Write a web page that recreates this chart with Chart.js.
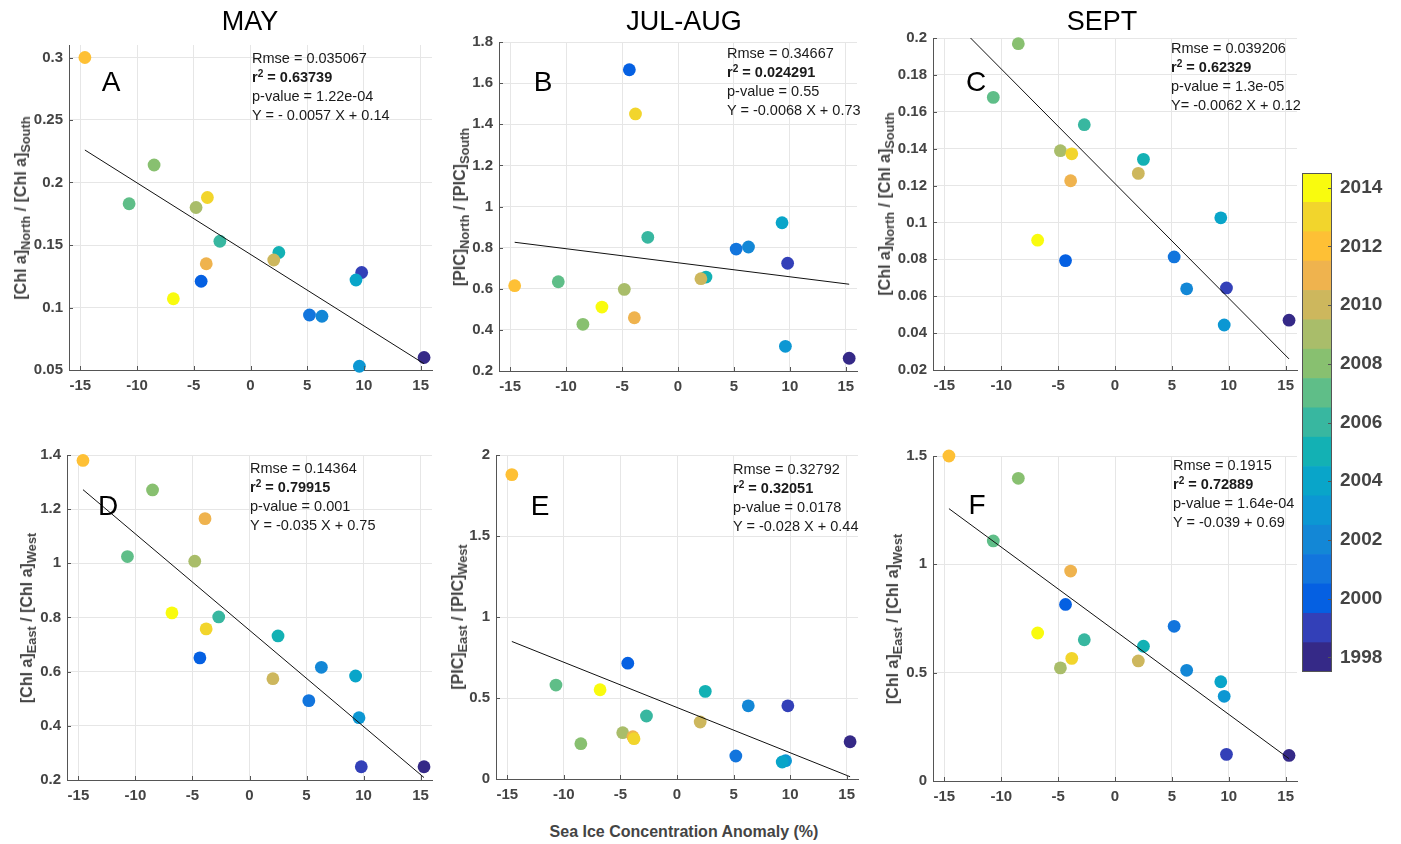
<!DOCTYPE html>
<html>
<head>
<meta charset="utf-8">
<title>Chl a / PIC ratios vs sea ice anomaly</title>
<script src="https://cdn.jsdelivr.net/npm/chart.js"></script>
<style>
  body { margin:0; background:#fff; font-family:"Liberation Sans", Arial, sans-serif; }
  #page { position:relative; width:1401px; height:844px; overflow:hidden; }
  canvas { position:absolute; }
  .t { position:absolute; white-space:nowrap; transform:translate(-50%,-50%); line-height:1; }
  .title { font-size:27px; color:#000; }
  .letter { font-size:28px; color:#000; }
  .xlab { font-size:16px; font-weight:bold; color:#444; }
  .ylab { position:absolute; white-space:nowrap; font-size:16px; font-weight:bold; color:#444;
          transform:translate(-50%,-50%) rotate(-90deg); line-height:1; }
  .ylab sub { font-size:0.8em; vertical-align:-0.35em; line-height:0; }
  .stats { position:absolute; white-space:nowrap; font-size:14.5px; line-height:19px; color:#1a1a1a; }
  .stats sup { font-size:0.7em; vertical-align:0.5em; line-height:0; }
</style>
</head>
<body>
<div id="page"></div>
<script>
// ---- data ----
const years = [1998, 1999, 2000, 2001, 2002, 2003, 2004, 2005, 2006, 2007, 2008, 2009, 2010, 2011, 2012, 2013, 2014];
const yearColors = ['#352987', '#3340b8', '#0560e2', '#1275dd', '#1387d6', '#0c97d3', '#09a5c9', '#13b1b4',
                    '#38b7a0', '#5fbe88', '#88c070', '#a9bd6a', '#cdb75d', '#efb34e', '#fec035', '#f2d52c', '#f9fb0e'];
const yearTicks = [1998, 2000, 2002, 2004, 2006, 2008, 2010, 2012, 2014];

// sea ice concentration anomaly (%) per year
const iceAnomaly = [15.3, 9.8, -4.35, 5.2, 6.3, 9.6, 9.3, 2.5, -2.7, -10.7, -8.5, -4.8, 2.05, -3.9, -14.6, -3.8, -6.8];

const mayChlNS  = [0.060, 0.128, 0.121, 0.094, 0.093, 0.053, 0.122, 0.144, 0.153, 0.183, 0.214, 0.180, 0.138, 0.135, 0.300, 0.188, 0.107];
const julPicNS  = [0.262, 0.724, 1.665, 0.793, 0.803, 0.320, 0.921, 0.657, 0.850, 0.634, 0.427, 0.597, 0.649, 0.459, 0.615, 1.450, 0.511];
const sepChlNS  = [0.047, 0.0645, 0.0793, 0.0813, 0.064, 0.0444, 0.1025, 0.1342, 0.153, 0.1678, 0.1969, 0.1389, 0.1266, 0.1226, null, 0.1372, 0.0904];
const mayChlEW  = [0.249, 0.249, 0.651, 0.493, 0.616, 0.430, 0.584, 0.732, 0.802, 1.025, 1.271, 1.008, 0.574, 1.165, 1.380, 0.758, 0.817];
const julPicEW  = [0.230, 0.452, 0.715, 0.142, 0.452, 0.113, 0.105, 0.541, 0.389, 0.580, 0.218, 0.286, 0.352, 0.261, 1.879, 0.249, 0.551];
const sepChlEW  = [0.118, 0.123, 0.815, 0.714, 0.511, 0.391, 0.458, 0.622, 0.652, 1.108, 1.397, 0.522, 0.554, 0.969, 1.500, 0.566, 0.683];

// regression line end points [x0, x1] / [y0, y1]
const fitXA = [-14.6, 15.3], fitYA = [0.226, 0.055];
const fitXB = [-14.6, 15.3], fitYB = [0.826, 0.622];
const fitXC = [-12.7, 15.3], fitYC = [0.200, 0.026];
const fitXD = [-14.6, 15.3], fitYD = [1.272, 0.209];
const fitXE = [-14.6, 15.3], fitYE = [0.849, 0.014];
const fitXF = [-14.6, 15.3], fitYF = [1.257, 0.103];

const xTicks = [-15, -10, -5, 0, 5, 10, 15];
const yTicksA = [0.05, 0.1, 0.15, 0.2, 0.25, 0.3];
const yTicksB = [0.2, 0.4, 0.6, 0.8, 1, 1.2, 1.4, 1.6, 1.8];
const yTicksC = [0.02, 0.04, 0.06, 0.08, 0.1, 0.12, 0.14, 0.16, 0.18, 0.2];
const yTicksD = [0.2, 0.4, 0.6, 0.8, 1, 1.2, 1.4];
const yTicksE = [0, 0.5, 1, 1.5, 2];
const yTicksF = [0, 0.5, 1, 1.5];

const statsA = ['Rmse = 0.035067', '0.63739', 'p-value = 1.22e-04', 'Y = - 0.0057 X + 0.14'];
const statsB = ['Rmse = 0.34667', '0.024291', 'p-value = 0.55', 'Y = -0.0068 X + 0.73'];
const statsC = ['Rmse = 0.039206', '0.62329', 'p-value = 1.3e-05', 'Y= -0.0062 X + 0.12'];
const statsD = ['Rmse = 0.14364', '0.79915', 'p-value = 0.001', 'Y = -0.035 X + 0.75'];
const statsE = ['Rmse = 0.32792', '0.32051', 'p-value = 0.0178', 'Y = -0.028 X + 0.44'];
const statsF = ['Rmse = 0.1915', '0.72889', 'p-value = 1.64e-04', 'Y = -0.039 + 0.69'];

// ---- layout ----
Chart.defaults.font.family = '"Liberation Sans", Arial, sans-serif';
const page = document.getElementById('page');
const YW = 60, XH = 30, PT = 10, PR = 14;

const panels = [
  {letter:'A', box:[69, 45, 432, 370],  yr:[0.05, 0.31], yt:yTicksA, vals:mayChlNS, fx:fitXA, fy:fitYA, stats:statsA, st:[252, 48.5], lp:[111, 82], yl:['[Chl a]', 'North', '[Chl a]', 'South'], ylx:21},
  {letter:'B', box:[499, 42, 857, 371], yr:[0.2, 1.8],   yt:yTicksB, vals:julPicNS, fx:fitXB, fy:fitYB, stats:statsB, st:[727, 43.5], lp:[543, 82], yl:['[PIC]', 'North', '[PIC]', 'South'], ylx:460},
  {letter:'C', box:[933, 38, 1297, 370],yr:[0.02, 0.2],  yt:yTicksC, vals:sepChlNS, fx:fitXC, fy:fitYC, stats:statsC, st:[1171, 38.5], lp:[976, 82], yl:['[Chl a]', 'North', '[Chl a]', 'South'], ylx:885},
  {letter:'D', box:[67, 455, 432, 780], yr:[0.2, 1.4],   yt:yTicksD, vals:mayChlEW, fx:fitXD, fy:fitYD, stats:statsD, st:[250, 458.5], lp:[108, 506], yl:['[Chl a]', 'East', '[Chl a]', 'West'], ylx:27},
  {letter:'E', box:[496, 455, 858, 779],yr:[0, 2],       yt:yTicksE, vals:julPicEW, fx:fitXE, fy:fitYE, stats:statsE, st:[733, 459.5], lp:[540, 506], yl:['[PIC]', 'East', '[PIC]', 'West'], ylx:458},
  {letter:'F', box:[933, 456, 1297, 781],yr:[0, 1.5],    yt:yTicksF, vals:sepChlEW, fx:fitXF, fy:fitYF, stats:statsF, st:[1173, 456], lp:[977, 505], yl:['[Chl a]', 'East', '[Chl a]', 'West'], ylx:893}
];

function addText(cls, html, x, y) {
  const d = document.createElement('div');
  d.className = cls;
  d.innerHTML = html;
  d.style.left = x + 'px';
  d.style.top = y + 'px';
  page.appendChild(d);
  return d;
}

// keep the plot box where we put it: drop the label overflow padding
function fixSize(s, w, h) {
  if (w !== null) s.width = w;
  if (h !== null) s.height = h;
  s.paddingTop = 0; s.paddingBottom = 0; s.paddingLeft = 0; s.paddingRight = 0;
}

// small inward tick marks like MATLAB axes
const innerTicks = {
  id: 'innerTicks',
  afterDraw(chart) {
    const {ctx, chartArea: a, scales} = chart;
    ctx.save();
    ctx.strokeStyle = '#555';
    ctx.lineWidth = 1;
    ctx.beginPath();
    scales.x.ticks.forEach(t => {
      const px = Math.round(scales.x.getPixelForValue(t.value)) + 0.5;
      ctx.moveTo(px, a.bottom); ctx.lineTo(px, a.bottom - 4);
    });
    scales.y.ticks.forEach(t => {
      const py = Math.round(scales.y.getPixelForValue(t.value)) + 0.5;
      ctx.moveTo(a.left, py); ctx.lineTo(a.left + 4, py);
    });
    ctx.stroke();
    ctx.restore();
  }
};

const tickFont = {size: 15, weight: 'bold'};
const fmt = v => String(+v.toFixed(3));

panels.forEach(p => {
  const [L, T, R, B] = p.box;
  const cv = document.createElement('canvas');
  const w = (R - L) + YW + PR, h = (B - T) + PT + XH;
  cv.width = w; cv.height = h;
  cv.style.left = (L - YW) + 'px';
  cv.style.top = (T - PT) + 'px';
  page.appendChild(cv);

  const pts = [], cols = [];
  years.forEach((yr, i) => {
    if (p.vals[i] === null) return;
    pts.push({x: iceAnomaly[i], y: p.vals[i]});
    cols.push(yearColors[i]);
  });

  new Chart(cv, {
    type: 'scatter',
    data: {
      datasets: [
        {type: 'line', data: p.fx.map((x, i) => ({x, y: p.fy[i]})), borderColor: '#111', borderWidth: 1,
         pointRadius: 0, fill: false, clip: false},
        {data: pts, pointBackgroundColor: cols, pointBorderColor: cols, pointBorderWidth: 0,
         pointRadius: 6.4, pointHoverRadius: 6.4, clip: false}
      ]
    },
    options: {
      responsive: false, animation: false, events: [],
      layout: {padding: {top: PT, right: PR, left: 0, bottom: 0}},
      plugins: {legend: {display: false}, tooltip: {enabled: false}},
      scales: {
        x: {
          type: 'linear', min: -16, max: 16,
          afterBuildTicks: s => { s.ticks = xTicks.map(v => ({value: v})); },
          afterFit: s => fixSize(s, null, XH),
          grid: {color: '#e6e6e6', drawTicks: false},
          border: {color: '#555'},
          ticks: {font: tickFont, color: '#444', padding: 7, maxRotation: 0, callback: fmt}
        },
        y: {
          type: 'linear', min: p.yr[0], max: p.yr[1],
          afterBuildTicks: s => { s.ticks = p.yt.map(v => ({value: v})); },
          afterFit: s => fixSize(s, YW, null),
          grid: {color: '#e6e6e6', drawTicks: false},
          border: {color: '#555'},
          ticks: {font: tickFont, color: '#444', padding: 6, callback: fmt}
        }
      }
    },
    plugins: [innerTicks]
  });

  addText('t letter', p.letter, p.lp[0], p.lp[1]);
  addText('ylab', p.yl[0] + '<sub>' + p.yl[1] + '</sub> / ' + p.yl[2] + '<sub>' + p.yl[3] + '</sub>', p.ylx, (T + B) / 2);
  const s = p.stats;
  addText('stats', s[0] + '<br><b>r<sup>2</sup> = ' + s[1] + '</b><br>' + s[2] + '<br>' + s[3], p.st[0], p.st[1]);
});

addText('t title', 'MAY', 250, 21);
addText('t title', 'JUL-AUG', 684, 21);
addText('t title', 'SEPT', 1102, 21);
addText('t xlab', 'Sea Ice Concentration Anomaly (%)', 684, 832);

// ---- colour bar ----
const cb = document.createElement('canvas');
cb.width = 99; cb.height = 519;
cb.style.left = '1302px'; cb.style.top = '163px';
page.appendChild(cb);

const cbFrame = {
  id: 'cbFrame',
  afterDraw(chart) {
    const {ctx, chartArea: a, scales} = chart;
    ctx.save();
    ctx.strokeStyle = '#555';
    ctx.lineWidth = 1;
    ctx.strokeRect(a.left + 0.5, a.top + 0.5, a.right - a.left - 1, a.bottom - a.top - 1);
    ctx.beginPath();
    scales.y.ticks.forEach(t => {
      const py = Math.round(scales.y.getPixelForValue(t.value)) + 0.5;
      ctx.moveTo(a.right, py); ctx.lineTo(a.right - 4, py);
    });
    ctx.stroke();
    ctx.restore();
  }
};

new Chart(cb, {
  type: 'bar',
  data: {
    labels: ['year'],
    datasets: years.map((y, i) => ({
      data: [[y - 0.5, y + 0.5]], backgroundColor: yearColors[i], borderWidth: 0,
      grouped: false, barPercentage: 1, categoryPercentage: 1
    }))
  },
  options: {
    responsive: false, animation: false, events: [],
    layout: {padding: {top: 10, bottom: 10, left: 0, right: 0}},
    plugins: {legend: {display: false}, tooltip: {enabled: false}},
    scales: {
      x: {display: false},
      y: {
        position: 'right', min: 1997.5, max: 2014.5,
        afterBuildTicks: s => { s.ticks = yearTicks.map(v => ({value: v})); },
        afterFit: s => fixSize(s, 69, null),
        grid: {display: false, drawTicks: false},
        border: {display: false},
        ticks: {font: {size: 19, weight: 'bold'}, color: '#444', padding: 8, callback: v => String(v)}
      }
    }
  },
  plugins: [cbFrame]
});
</script>
</body>
</html>
